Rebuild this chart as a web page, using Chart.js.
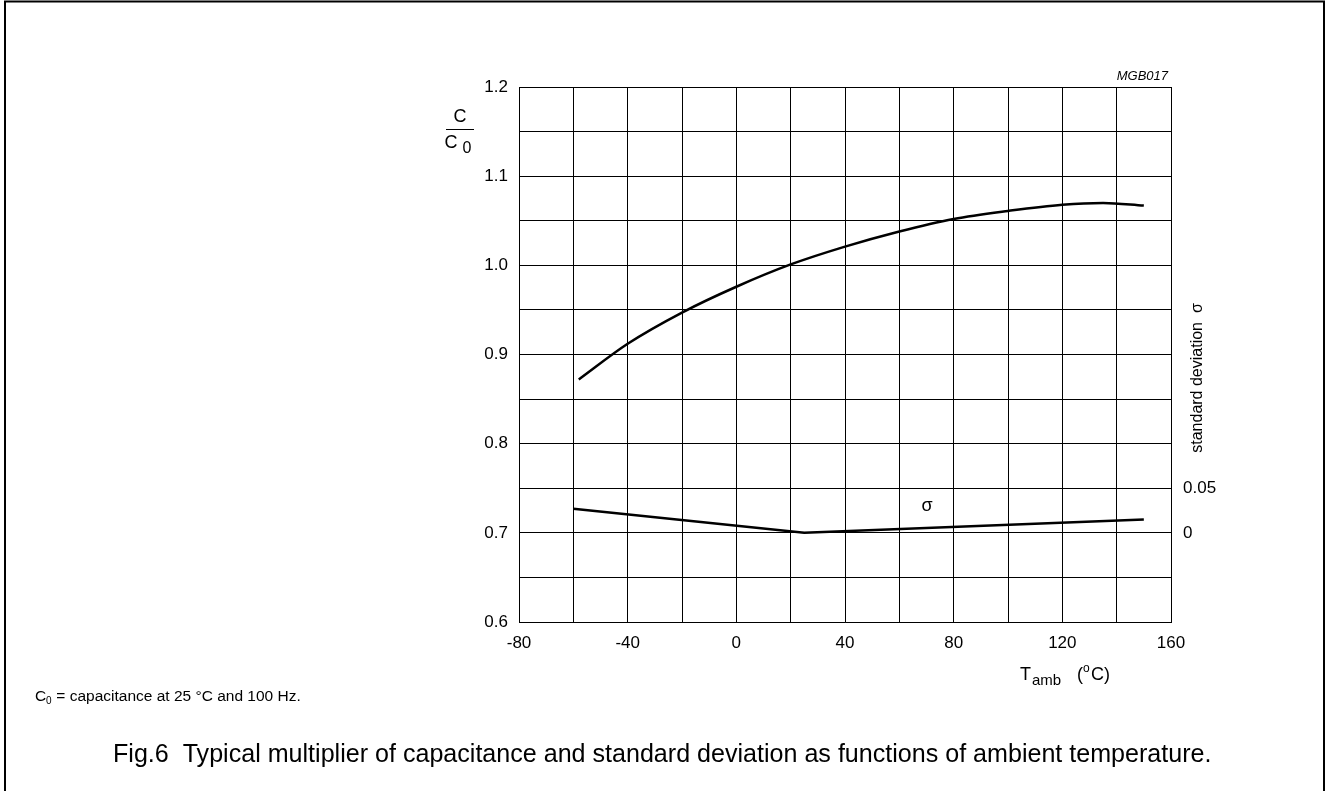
<!DOCTYPE html>
<html>
<head>
<meta charset="utf-8">
<script src="https://cdn.jsdelivr.net/npm/chart.js@4"></script>
<style>
  html, body { margin: 0; padding: 0; background: #fff; }
  canvas { display: block; }
</style>
</head>
<body>
<canvas id="capChart" width="1326" height="791"></canvas>
<script>
// values
const tempC = [-58, -40, -20, 0, 20, 40, 60, 80, 100, 120, 135, 150];
const capRatio = [0.872, 0.912, 0.947, 0.976, 1.001, 1.021, 1.038, 1.052, 1.061, 1.068, 1.070, 1.067];
const tempSigma = [-60, 25, 150];
const sigma = [0.027, 0, 0.015];
const sigmaTicks = [0, 0.05];

const FONT = "'Liberation Sans', Arial, Helvetica, sans-serif";

function toPoints(xs, ys) {
  return xs.map((x, i) => ({ x: x, y: ys[i] }));
}

function textPlugin() {
  return {
    id: "figText",
    afterDraw(chart) {
      let ctx = chart.ctx;
      ctx.save();
      ctx.fillStyle = "#000";
      ctx.strokeStyle = "#000";

      // frame
      ctx.lineWidth = 2;
      ctx.beginPath();
      ctx.moveTo(5, 791);
      ctx.lineTo(5, 1.5);
      ctx.lineTo(1324, 1.5);
      ctx.lineTo(1324, 791);
      ctx.stroke();

      // C / C0 axis title
      ctx.textAlign = "center";
      ctx.textBaseline = "middle";
      ctx.font = "18px " + FONT;
      ctx.fillText("C", 460, 117);
      ctx.lineWidth = 1;
      ctx.beginPath();
      ctx.moveTo(446, 129.5);
      ctx.lineTo(474, 129.5);
      ctx.stroke();
      ctx.fillText("C", 451, 143);
      ctx.font = "16px " + FONT;
      ctx.fillText("0", 467, 149);

      // figure code
      ctx.textAlign = "right";
      ctx.textBaseline = "alphabetic";
      ctx.font = "italic 13px " + FONT;
      ctx.fillText("MGB017", 1168, 80);

      // sigma label on the curve
      ctx.textAlign = "center";
      ctx.textBaseline = "middle";
      ctx.font = "18px " + FONT;
      ctx.fillText("σ", 927, 506);

      // right axis title
      ctx.save();
      ctx.translate(1198, 378);
      ctx.rotate(-Math.PI / 2);
      ctx.font = "16px " + FONT;
      ctx.fillText("standard deviation  σ", 0, 0);
      ctx.restore();

      // x axis title
      ctx.textAlign = "left";
      ctx.textBaseline = "alphabetic";
      ctx.font = "18px " + FONT;
      ctx.fillText("T", 1020, 680);
      ctx.font = "15px " + FONT;
      ctx.fillText("amb", 1032, 685);
      ctx.font = "18px " + FONT;
      ctx.fillText("(", 1077, 680);
      ctx.font = "12px " + FONT;
      ctx.fillText("o", 1083, 672);
      ctx.font = "18px " + FONT;
      ctx.fillText("C)", 1091, 680);

      // footnote
      ctx.font = "15.5px " + FONT;
      ctx.fillText("C", 35, 701);
      ctx.font = "10px " + FONT;
      ctx.fillText("0", 46, 704);
      ctx.font = "15.5px " + FONT;
      ctx.fillText(" = capacitance at 25 °C and 100 Hz.", 52, 701);

      // caption, fitted to the reference width
      let caption = "Fig.6  Typical multiplier of capacitance and standard deviation as functions of ambient temperature.";
      ctx.font = "24px " + FONT;
      let w = ctx.measureText(caption).width;
      let size = 24 * 1099 / w;
      ctx.font = size.toFixed(2) + "px " + FONT;
      ctx.fillText(caption, 113, 762);

      ctx.restore();
    },
  };
}

function createChart(ctx) {
  return new Chart(ctx, {
    type: "line",
    data: {
      datasets: [
        {
          data: toPoints(tempC, capRatio),
          yAxisID: "y",
          borderColor: "#000",
          borderWidth: 2.5,
          pointRadius: 0,
          cubicInterpolationMode: "monotone",
          fill: false,
        },
        {
          data: toPoints(tempSigma, sigma),
          yAxisID: "y2",
          borderColor: "#000",
          borderWidth: 2.5,
          pointRadius: 0,
          tension: 0,
          fill: false,
        },
      ],
    },
    options: {
      responsive: false,
      animation: false,
      layout: {
        padding: { top: 87, left: 0, right: 0, bottom: 0 },
      },
      scales: {
        x: {
          type: "linear",
          min: -80,
          max: 160,
          grid: { color: "#000", lineWidth: 1, drawTicks: false },
          border: { display: true, color: "#000", width: 1 },
          ticks: {
            stepSize: 20,
            autoSkip: false,
            maxRotation: 0,
            padding: 11,
            color: "#000",
            font: { family: FONT, size: 17 },
            callback: function (value) {
              return value % 40 === 0 ? String(value) : "";
            },
          },
          afterFit: function (scale) {
            scale.height = 169;
          },
        },
        y: {
          type: "linear",
          position: "left",
          min: 0.6,
          max: 1.2,
          grid: { color: "#000", lineWidth: 1, drawTicks: false },
          border: { display: true, color: "#000", width: 1 },
          ticks: {
            stepSize: 0.05,
            autoSkip: false,
            padding: 11,
            color: "#000",
            font: { family: FONT, size: 17 },
            callback: function (value) {
              let hundredths = Math.round(value * 100);
              return hundredths % 10 === 0 ? (hundredths / 100).toFixed(1) : "";
            },
          },
          afterFit: function (scale) {
            scale.width = 519;
          },
        },
        y2: {
          type: "linear",
          position: "right",
          min: -0.1,
          max: 0.5,
          grid: { display: false, drawTicks: false },
          border: { display: true, color: "#000", width: 1 },
          afterBuildTicks: function (scale) {
            scale.ticks = sigmaTicks.map((v) => ({ value: v }));
          },
          ticks: {
            autoSkip: false,
            padding: 12,
            color: "#000",
            font: { family: FONT, size: 17 },
            callback: function (value) {
              return String(value);
            },
          },
          afterFit: function (scale) {
            scale.width = 155;
          },
        },
      },
      plugins: {
        legend: { display: false },
        tooltip: { enabled: false },
      },
    },
    plugins: [textPlugin()],
  });
}

let ctx = document.getElementById("capChart");
createChart(ctx);
</script>
</body>
</html>
